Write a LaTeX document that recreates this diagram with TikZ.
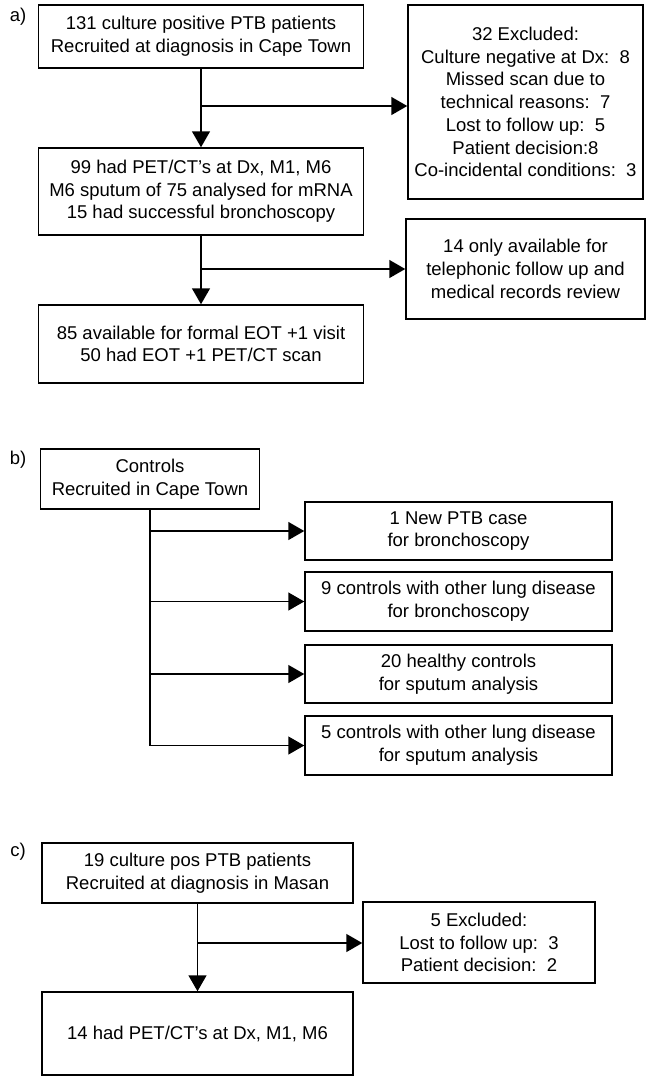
\documentclass[tikz,border=0pt]{standalone}
\usepackage{fontspec}
\setmainfont{Liberation Sans}
\usetikzlibrary{arrows.meta}
\tikzset{
  flowbox/.style={draw=black, line width=1.5pt, rectangle, align=center, inner sep=0pt,
    font=\fontsize{18.5}{22.7}\selectfont},
  arr/.style={line width=1.5pt, -{Triangle[length=16pt,width=18pt]}},
  conn/.style={line width=1.5pt},
  panel/.style={font=\fontsize{18.5}{22.7}\selectfont, inner sep=0pt}
}
\begin{document}
\begin{tikzpicture}[x=1pt,y=-1pt]
\useasboundingbox[fill=white] (0,0) rectangle (648,1077);
% ---------- panel a ----------
\node[panel] (la) at (18,17) {a)};
\node[flowbox, minimum width=325pt, minimum height=63pt] (a1) at (201,36.5)
  {131 culture positive PTB patients\\Recruited at diagnosis in Cape Town};
\node[flowbox, minimum width=235pt, minimum height=194pt] (aex) at (525.5,102)
  {32 Excluded:\\Culture negative at Dx:\ \ 8\\Missed scan due to\\technical reasons:\ \ 7\\Lost to follow up:\ \ 5\\Patient decision:8\\Co-incidental conditions:\ \ 3};
\node[flowbox, minimum width=325pt, minimum height=87pt] (a2) at (201,191.5)
  {99 had PET/CT’s at Dx, M1, M6\\M6 sputum of 75 analysed for mRNA\\15 had successful bronchoscopy};
\node[flowbox, minimum width=239pt, minimum height=100pt] (a14) at (525.5,269)
  {14 only available for\\telephonic follow up and\\medical records review};
\node[flowbox, minimum width=325pt, minimum height=78pt] (a3) at (201,344)
  {85 available for formal EOT +1 visit\\50 had EOT +1 PET/CT scan};
\draw[arr] (a1.south) -- (a2.north);
\coordinate (ja1) at (201,106);
\draw[arr] (ja1) -- (ja1 -| aex.west);
\draw[arr] (a2.south) -- (a3.north);
\coordinate (ja2) at (201,269);
\draw[arr] (ja2) -- (ja2 -| a14.west);
% ---------- panel b ----------
\node[panel] (lb) at (18,460) {b)};
\node[flowbox, minimum width=219pt, minimum height=60pt] (b0) at (150,479)
  {Controls\\Recruited in Cape Town};
\node[flowbox, minimum width=307pt, minimum height=58pt] (b1) at (458.5,531)
  {1 New PTB case\\for bronchoscopy};
\node[flowbox, minimum width=307pt, minimum height=59pt] (b2) at (458.5,601.5)
  {9 controls with other lung disease\\for bronchoscopy};
\node[flowbox, minimum width=307pt, minimum height=58pt] (b3) at (458.5,674)
  {20 healthy controls\\for sputum analysis};
\node[flowbox, minimum width=307pt, minimum height=59pt] (b4) at (458.5,745.5)
  {5 controls with other lung disease\\for sputum analysis};
\coordinate (jb4) at (b0.south |- b4.west);
\draw[conn] (b0.south) -- (jb4);
\draw[arr] (b0.south |- b1.west) -- (b1.west);
\draw[arr] (b0.south |- b2.west) -- (b2.west);
\draw[arr] (b0.south |- b3.west) -- (b3.west);
\draw[arr] ([xshift=-0.75pt]jb4) -- (b4.west);
% ---------- panel c ----------
\node[panel] (lc) at (18,852) {c)};
\node[flowbox, minimum width=311pt, minimum height=60pt] (c1) at (197.5,873)
  {19 culture pos PTB patients\\Recruited at diagnosis in Masan};
\node[flowbox, minimum width=232pt, minimum height=81pt] (cex) at (479,942.5)
  {5 Excluded:\\Lost to follow up:\ \ 3\\Patient decision:\ \ 2};
\node[flowbox, minimum width=311pt, minimum height=83pt] (c2) at (197.5,1033.5)
  {14 had PET/CT’s at Dx, M1, M6};
\draw[arr] (c1.south) -- (c2.north);
\coordinate (jc1) at (197.5,943);
\draw[arr] (jc1) -- (jc1 -| cex.west);
\end{tikzpicture}
\end{document}
